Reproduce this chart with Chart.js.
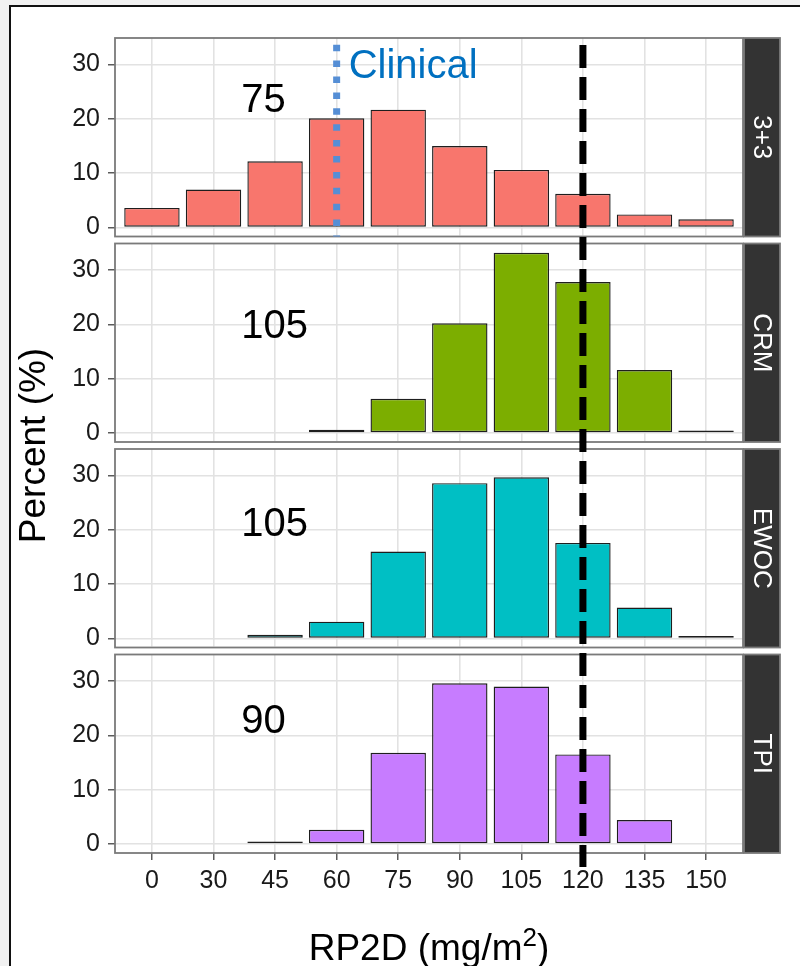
<!DOCTYPE html>
<html>
<head>
<meta charset="utf-8">
<title>RP2D by design</title>
<script src="https://cdn.jsdelivr.net/npm/chart.js@4.4.1/dist/chart.umd.min.js"></script>
<style>
    html, body { margin: 0; padding: 0; overflow: hidden; background: #f1f1f1; }
    #frame { position: absolute; left: 9px; top: 5px; width: 900px; height: 1000px; border: 2px solid #111; background: #fff; }
    #chart { position: absolute; left: 0; top: 0; }
</style>
</head>
<body>
<div id="frame"></div>
<canvas id="chart" width="800" height="966"></canvas>
<script>
// Data
const categories = ['0', '30', '45', '60', '75', '90', '105', '120', '135', '150'];
const panels = ['3+3', 'CRM', 'EWOC', 'TPI'];
const pct33 = [3.6, 7.0, 12.2, 20.1, 21.7, 15.0, 10.6, 6.2, 2.4, 1.5];
const pctCRM = [null, null, null, 0.6, 6.3, 20.2, 33.2, 27.8, 11.6, 0.15];
const pctEWOC = [null, null, 0.7, 3.1, 16.0, 28.6, 29.7, 17.6, 5.7, 0.3];
const pctTPI = [null, null, 0.3, 2.6, 16.8, 29.6, 29.0, 16.5, 4.4, null];
const panelValues = [pct33, pctCRM, pctEWOC, pctTPI];
const yTickLabels = [0, 10, 20, 30];
const yGridValues = [0, 5, 10, 15, 20, 25, 30];

// Median RP2D labels per panel, and the reference doses
const medianLabels = ['75', '105', '105', '90'];
const medianLabelY = [23.3, 19.6, 20.9, 22.5];
const clinicalDose = '60';
const targetDose = '120';

// Look
const panelColors = ['#F8766D', '#7CAE00', '#00BFC4', '#C77CFF'];
const FONT = "'Liberation Sans', Arial, sans-serif";
const yMin = -1.66;
const yMax = 34.9;
const PANEL_GAP = 7;      // px between facets
const PANEL_H = 198.5;    // px per facet
const yTop = yMax + (yMax - yMin) * PANEL_GAP / PANEL_H;
const axisIds = panels.map((p, i) => 'y' + i);

function yAxis() {
    const major = c => c.tick && yTickLabels.includes(c.tick.value);
    return {
        type: 'linear',
        position: 'left',
        stack: 'facets',
        stackWeight: 1,
        min: yMin,
        max: yTop,
        border: { display: false },
        afterBuildTicks: axis => { axis.ticks = yGridValues.map(v => ({ value: v })); },
        afterFit: axis => { axis.width = 115; },
        grid: {
            color: c => major(c) ? '#E2E2E2' : '#F0F0F0',
            lineWidth: c => major(c) ? 1.6 : 1,
            tickColor: c => major(c) ? '#333' : 'rgba(0,0,0,0)',
            tickLength: 7,
            tickWidth: 1.2
        },
        ticks: {
            padding: 8,
            color: '#1a1a1a',
            font: { family: FONT, size: 25 },
            callback: v => yTickLabels.includes(v) ? String(v) : ''
        }
    };
}

const scales = {
    x: {
        type: 'linear',
        offset: false,
        min: -0.6,
        max: categories.length - 0.4,
        border: { display: false },
        afterBuildTicks: axis => { axis.ticks = categories.map((c, i) => ({ value: i })); },
        afterFit: axis => { axis.height = 113; },
        grid: { offset: false, color: '#E2E2E2', lineWidth: 1.6, tickColor: '#333', tickLength: 7, tickWidth: 1.2 },
        ticks: {
            padding: 6,
            autoSkip: false,
            maxRotation: 0,
            color: '#1a1a1a',
            font: { family: FONT, size: 25 },
            callback: v => categories[v]
        }
    }
};
// stacked left axes are laid out top-down from the last one added
for (let i = panels.length - 1; i >= 0; i--) scales[axisIds[i]] = yAxis();

// Facet frames, strips, reference lines, labels
const facetPlugin = {
    id: 'facets',
    beforeDatasetsDraw(chart) {
        const ctx = chart.ctx;
        const { left, right } = chart.chartArea;
        ctx.save();
        ctx.fillStyle = '#fff';
        axisIds.forEach(id => {
            const s = chart.scales[id];
            ctx.fillRect(left, s.top - 1, right - left, s.getPixelForValue(yMax) - s.top + 1);
        });
        ctx.restore();
    },
    afterDatasetsDraw(chart) {
        const ctx = chart.ctx;
        const { left, right } = chart.chartArea;
        ctx.save();
        axisIds.forEach((id, i) => {
            const s = chart.scales[id];
            const top = s.getPixelForValue(yMax);
            const bottom = s.getPixelForValue(yMin);
            ctx.strokeStyle = '#7a7a7a';
            ctx.lineWidth = 1.8;
            ctx.strokeRect(left, top, right - left, bottom - top);
            // strip
            ctx.fillStyle = '#333';
            ctx.fillRect(right + 1, top, 36, bottom - top);
            ctx.strokeRect(right + 1, top, 36, bottom - top);
            ctx.save();
            ctx.translate(right + 19, (top + bottom) / 2);
            ctx.rotate(Math.PI / 2);
            ctx.fillStyle = '#fff';
            ctx.font = '26px ' + FONT;
            ctx.textAlign = 'center';
            ctx.textBaseline = 'middle';
            ctx.fillText(panels[i], 0, 1);
            ctx.restore();
        });
        ctx.restore();
    },
    afterDraw(chart) {
        const ctx = chart.ctx;
        const x = chart.scales.x;
        const first = chart.scales[axisIds[0]];
        const last = chart.scales[axisIds[axisIds.length - 1]];
        const top = first.getPixelForValue(yMax);
        const bottom = last.getPixelForValue(yMin);
        ctx.save();

        // clinical dose (top facet only)
        const cx = x.getPixelForValue(categories.indexOf(clinicalDose));
        ctx.strokeStyle = '#558ED5';
        ctx.lineWidth = 7;
        ctx.setLineDash([6.5, 9.4]);
        ctx.lineDashOffset = 9.2;
        ctx.beginPath();
        ctx.moveTo(cx, top);
        ctx.lineTo(cx, first.getPixelForValue(yMin));
        ctx.stroke();

        ctx.fillStyle = '#0070C0';
        ctx.font = '40px ' + FONT;
        ctx.textAlign = 'left';
        ctx.textBaseline = 'middle';
        ctx.fillText('Clinical', cx + 12, first.getPixelForValue(29.5));

        // target dose across all facets
        const tx = x.getPixelForValue(categories.indexOf(targetDose));
        ctx.strokeStyle = '#000';
        ctx.lineWidth = 7;
        ctx.setLineDash([23, 9]);
        ctx.lineDashOffset = 25;
        ctx.beginPath();
        ctx.moveTo(tx, top);
        ctx.lineTo(tx, bottom + 14);
        ctx.stroke();
        ctx.setLineDash([]);

        // median labels
        ctx.fillStyle = '#000';
        ctx.font = '40px ' + FONT;
        axisIds.forEach((id, i) => {
            const s = chart.scales[id];
            ctx.fillText(medianLabels[i], x.getPixelForValue(1.45), s.getPixelForValue(medianLabelY[i]));
        });

        // x title with superscript
        const main = 'RP2D (mg/m';
        ctx.font = '37px ' + FONT;
        const wMain = ctx.measureText(main).width;
        const wClose = ctx.measureText(')').width;
        ctx.font = '26px ' + FONT;
        const wSup = ctx.measureText('2').width;
        let tx0 = (chart.chartArea.left + chart.chartArea.right) / 2 - (wMain + wSup + wClose) / 2;
        ctx.textAlign = 'left';
        ctx.textBaseline = 'alphabetic';
        ctx.font = '37px ' + FONT;
        ctx.fillText(main, tx0, 960);
        ctx.font = '26px ' + FONT;
        ctx.fillText('2', tx0 + wMain, 946);
        ctx.font = '37px ' + FONT;
        ctx.fillText(')', tx0 + wMain + wSup, 960);

        // y title
        ctx.save();
        ctx.translate(35, (top + bottom) / 2);
        ctx.rotate(-Math.PI / 2);
        ctx.textAlign = 'center';
        ctx.textBaseline = 'middle';
        ctx.fillText('Percent (%)', 0, 0);
        ctx.restore();

        ctx.restore();
    }
};

const chart = new Chart(document.getElementById('chart'), {
    type: 'bar',
    data: {
        datasets: panels.map((name, i) => ({
            label: name,
            data: panelValues[i].map((v, j) => ({ x: j, y: v })),
            yAxisID: axisIds[i],
            backgroundColor: panelColors[i],
            borderColor: '#1e1e1e',
            borderWidth: 1.4,
            borderSkipped: false,
            grouped: false,
            barPercentage: 0.9,
            categoryPercentage: 1,
            minBarLength: 2.5
        }))
    },
    options: {
        responsive: false,
        animation: false,
        layout: { padding: { top: 31, right: 57, bottom: 0, left: 0 } },
        plugins: { legend: { display: false }, tooltip: { enabled: false } },
        scales: scales
    },
    plugins: [facetPlugin]
});
</script>
</body>
</html>
